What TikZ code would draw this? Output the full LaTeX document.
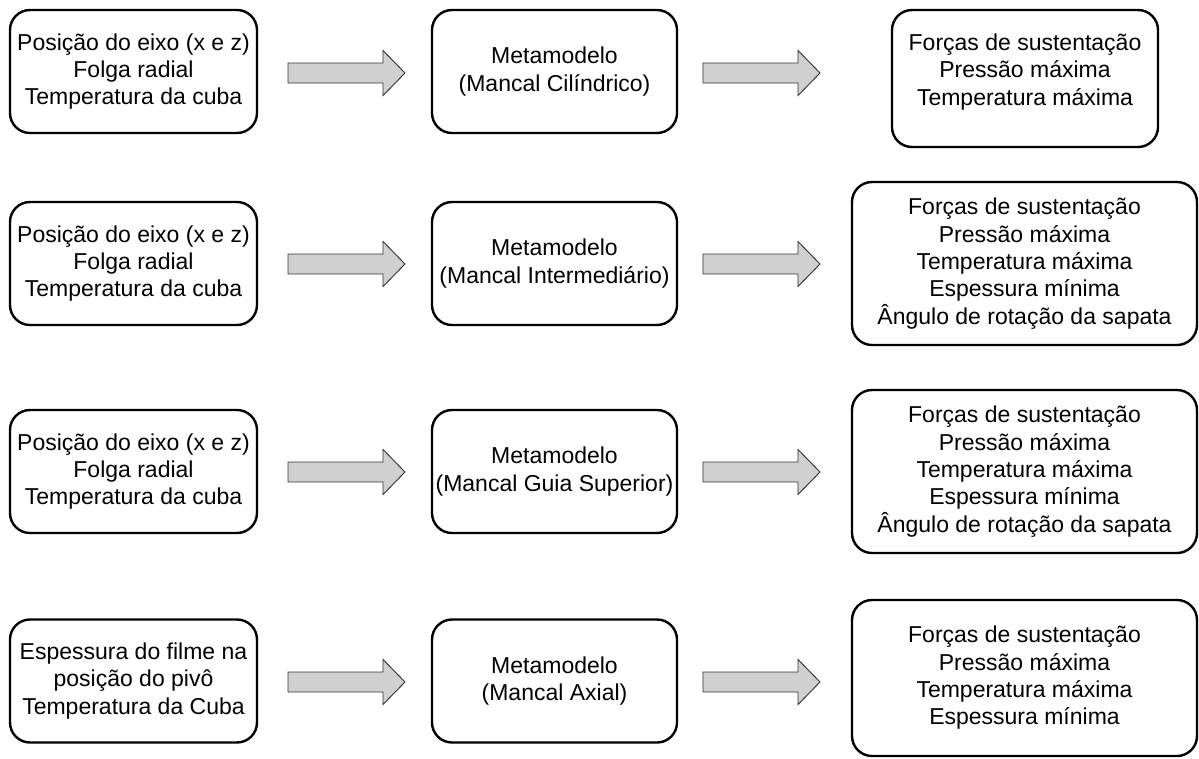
\documentclass[tikz,border=0pt]{standalone}
\usepackage{fontspec}
\setmainfont{Liberation Sans}
\definecolor{arrowfill}{HTML}{D0D0D0}
\definecolor{arrowline}{HTML}{333333}
\begin{document}
\begin{tikzpicture}[x=0.75pt,y=-0.75pt,
  txt/.style={align=center, inner sep=0pt,
    font=\fontsize{17.25}{20.5}\selectfont,
    execute at begin node={\rule{0pt}{17pt}}},
  box/.style={txt, draw=black, line width=1.8pt, rounded corners=15pt, fill=white},
  leftbox/.style={box, minimum width=185.25pt, minimum height=92.25pt},
  midbox/.style={box, minimum width=183.75pt, minimum height=92.25pt},
  rightbox/.style={box, minimum width=258.75pt, minimum height=122.25pt},
  flow/.style={draw=arrowline, line width=0.7pt, fill=arrowfill, line join=miter},
  pics/blockarrow/.style={code={
    \draw[flow] (-58.5,-10) -- (36.5,-10) -- (36.5,-22.5) -- (58.5,0)
      -- (36.5,22.5) -- (36.5,10) -- (-58.5,10) -- cycle;}}
]
\useasboundingbox (0,0) rectangle (1199,758);

% ---- row 1: cylindrical bearing
\node[leftbox] (l1) at (133.5,71.5) {Posição do eixo (x e z)\\Folga radial\\Temperatura da cuba};
\node[midbox] (m1) at (554.5,71.5) {Metamodelo\\(Mancal Cilíndrico)};
\node[box, minimum width=199.5pt, minimum height=102.75pt] (r1) at (1025,78.5) {};
\node[txt] (r1t) at ([yshift=5pt]r1.center) {Forças de sustentação\\Pressão máxima\\Temperatura máxima};
\pic (a1) at (346.5,73) {blockarrow};
\pic (b1) at (761.5,73) {blockarrow};

% ---- row 2: intermediate bearing
\node[leftbox] (l2) at (133.5,263.5) {Posição do eixo (x e z)\\Folga radial\\Temperatura da cuba};
\node[midbox] (m2) at (554.5,263.5) {Metamodelo\\(Mancal Intermediário)};
\node[rightbox] (r2) at (1024.5,263.5) {Forças de sustentação\\Pressão máxima\\Temperatura máxima\\Espessura mínima\\Ângulo de rotação da sapata};
\pic (a2) at (346.5,264) {blockarrow};
\pic (b2) at (761.5,264) {blockarrow};

% ---- row 3: upper guide bearing
\node[leftbox] (l3) at (133.5,471.5) {Posição do eixo (x e z)\\Folga radial\\Temperatura da cuba};
\node[midbox] (m3) at (554.5,471.5) {Metamodelo\\(Mancal Guia Superior)};
\node[rightbox] (r3) at (1024.5,471.5) {Forças de sustentação\\Pressão máxima\\Temperatura máxima\\Espessura mínima\\Ângulo de rotação da sapata};
\pic (a3) at (346.5,472) {blockarrow};
\pic (b3) at (761.5,472) {blockarrow};

% ---- row 4: thrust bearing
\node[leftbox] (l4) at (133.5,681) {Espessura do filme na\\posição do pivô\\Temperatura da Cuba};
\node[midbox] (m4) at (554.5,681) {Metamodelo\\(Mancal Axial)};
\node[rightbox, minimum height=117pt] (r4) at (1024.5,678) {Forças de sustentação\\Pressão máxima\\Temperatura máxima\\Espessura mínima};
\pic (a4) at (346.5,682) {blockarrow};
\pic (b4) at (761.5,682) {blockarrow};
\end{tikzpicture}
\end{document}
